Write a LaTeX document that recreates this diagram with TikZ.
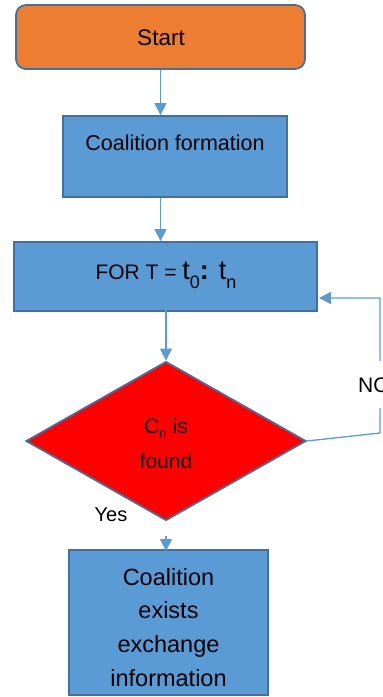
\documentclass[tikz,border=0pt]{standalone}
\usepackage{fontspec}
\setmainfont{Liberation Sans}
\usetikzlibrary{shapes.geometric,arrows.meta,calc}
\definecolor{boxblue}{HTML}{5B9BD5}
\definecolor{boxedge}{HTML}{41719C}
\definecolor{startor}{HTML}{ED7D31}
\definecolor{decred}{HTML}{FF0000}
\begin{document}
\begin{tikzpicture}[x=1pt,y=-1pt,
  procbox/.style={rectangle,draw=boxedge,line width=1.8pt,fill=boxblue,inner sep=0pt},
  conn/.style={draw=boxblue,line width=1.3pt,-{Triangle[width=12pt,length=12pt]}},
  txt/.style={inner sep=0pt,align=center}]
\useasboundingbox (0,0) rectangle (383,697);

\node[procbox,fill=startor,rounded corners=10pt,minimum width=289pt,minimum height=64pt] (start) at (160.5,37) {};
\node[txt,anchor=base,font=\fontsize{22.5}{26}\selectfont] (startt) at (161,45) {Start};

\node[procbox,minimum width=224pt,minimum height=81pt] (cf) at (175,156.5) {};
\node[txt,anchor=base,font=\fontsize{21.5}{26}\selectfont] (cft) at (175,150) {Coalition formation};

\node[procbox,minimum width=303pt,minimum height=69pt] (forb) at (165.5,276.5) {};
\node[txt,anchor=base] (fort) at (166,279) {\fontsize{21}{24}\selectfont FOR T = \fontsize{27}{30}\selectfont t\raisebox{-9pt}{\fontsize{18}{20}\selectfont 0}\textbf{:} t\raisebox{-9pt}{\fontsize{18}{20}\selectfont n}};

\node[diamond,draw=boxedge,line width=1.8pt,fill=decred,inner sep=0pt,minimum width=280pt,minimum height=159pt] (dia) at (166,441) {};
\node[txt,anchor=base,font=\fontsize{21}{35}\selectfont] (diat1) at (166,433) {C\raisebox{-5pt}{\fontsize{14}{16}\selectfont n} is};
\node[txt,anchor=base,font=\fontsize{21}{35}\selectfont] (diat2) at (166,468) {found};

\node[procbox,minimum width=199pt,minimum height=145pt] (out) at (168.5,622.5) {};
\node[txt,anchor=base,font=\fontsize{23.5}{34}\selectfont] (outt1) at (168.5,585) {Coalition};
\node[txt,anchor=base,font=\fontsize{23.5}{34}\selectfont] (outt2) at (168.5,618) {exists};
\node[txt,anchor=base,font=\fontsize{23.5}{34}\selectfont] (outt3) at (168.5,652) {exchange};
\node[txt,anchor=base,font=\fontsize{23.5}{34}\selectfont] (outt4) at (168.5,686) {information};

\node[txt,anchor=base,font=\fontsize{20}{24}\selectfont] (yes) at (111,521) {Yes};

% connectors
\draw[conn] (start.south) -- (start.south |- cf.north);
\draw[conn] (start.south |- cf.south) -- (start.south |- forb.north);
\draw[conn] ([yshift=7pt]forb.south -| dia.north) -- (dia.north);
\draw[conn] ([yshift=-15pt]dia.south) -- ([yshift=-2pt]dia.south |- out.north);

\coordinate (c1) at (380,433);
\coordinate (c2) at (380,298);
\draw[conn] (dia.east) -- (c1) -- (c2) -- ([xshift=1pt]forb.east |- c2);
\node[txt,anchor=base west,fill=white,inner ysep=16pt,inner xsep=0pt,font=\fontsize{21}{24}\selectfont] (nolab) at (358,392) {NO};
\end{tikzpicture}
\end{document}
